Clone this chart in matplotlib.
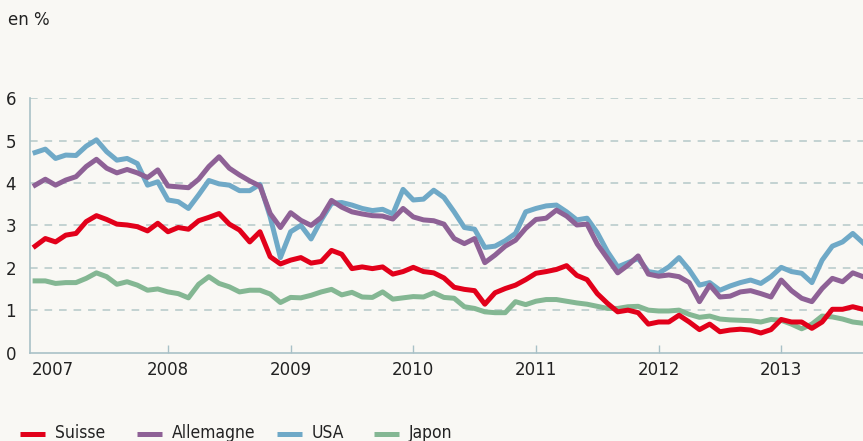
import matplotlib
matplotlib.use("Agg")
import matplotlib.pyplot as plt
from matplotlib.lines import Line2D
import numpy as np

# monthly values, Jan 2007 onwards
suisse = [2.51, 2.69, 2.61, 2.77, 2.81, 3.09, 3.23, 3.14, 3.03, 3.01,
          2.97, 2.87, 3.05, 2.85, 2.95, 2.91, 3.11, 3.19, 3.28, 3.03,
          2.89, 2.61, 2.85, 2.26, 2.09, 2.18, 2.24, 2.11, 2.15, 2.41,
          2.32, 1.98, 2.02, 1.98, 2.02, 1.85, 1.91, 2.01, 1.91, 1.88,
          1.76, 1.54, 1.49, 1.46, 1.14, 1.41, 1.51, 1.59, 1.72, 1.87,
          1.91, 1.96, 2.05, 1.82, 1.72, 1.39, 1.16, 0.96, 1.00, 0.94,
          0.67, 0.72, 0.72, 0.88, 0.72, 0.54, 0.67, 0.49, 0.53, 0.55,
          0.53, 0.46, 0.54, 0.78, 0.72, 0.72, 0.57, 0.72, 1.02, 1.02,
          1.08, 1.02]
allemagne = [3.95, 4.09, 3.95, 4.07, 4.15, 4.39, 4.56, 4.35, 4.24, 4.32,
             4.24, 4.13, 4.31, 3.93, 3.91, 3.89, 4.09, 4.39, 4.62, 4.35,
             4.19, 4.05, 3.93, 3.28, 2.95, 3.30, 3.12, 3.00, 3.19, 3.59,
             3.43, 3.32, 3.27, 3.23, 3.22, 3.15, 3.40, 3.20, 3.13, 3.11,
             3.03, 2.69, 2.57, 2.69, 2.12, 2.30, 2.51, 2.65, 2.93, 3.14,
             3.17, 3.36, 3.22, 3.01, 3.03, 2.56, 2.22, 1.88, 2.06, 2.28,
             1.85, 1.80, 1.83, 1.79, 1.65, 1.20, 1.59, 1.31, 1.33, 1.43,
             1.46, 1.39, 1.31, 1.71, 1.46, 1.28, 1.20, 1.51, 1.75, 1.67,
             1.88, 1.79]
usa = [4.72, 4.80, 4.58, 4.66, 4.65, 4.87, 5.02, 4.74, 4.54, 4.58,
       4.46, 3.95, 4.03, 3.60, 3.56, 3.40, 3.72, 4.06, 3.98, 3.95,
       3.82, 3.82, 3.97, 3.20, 2.24, 2.85, 3.00, 2.68, 3.13, 3.52,
       3.54, 3.48, 3.40, 3.35, 3.38, 3.27, 3.85, 3.60, 3.62, 3.83,
       3.66, 3.32, 2.95, 2.91, 2.48, 2.51, 2.64, 2.81, 3.32, 3.40,
       3.46, 3.48, 3.32, 3.13, 3.17, 2.83, 2.38, 2.02, 2.12, 2.22,
       1.91, 1.87, 2.02, 2.24, 1.95, 1.59, 1.65, 1.47, 1.57, 1.65,
       1.71, 1.63, 1.79, 2.01, 1.91, 1.87, 1.65, 2.18, 2.51, 2.61,
       2.81, 2.59]
japon = [1.69, 1.69, 1.63, 1.65, 1.65, 1.75, 1.88, 1.79, 1.61, 1.67,
         1.59, 1.47, 1.50, 1.43, 1.39, 1.29, 1.61, 1.79, 1.63, 1.55,
         1.43, 1.47, 1.47, 1.38, 1.18, 1.30, 1.29, 1.35, 1.43, 1.49,
         1.36, 1.42, 1.31, 1.30, 1.43, 1.26, 1.29, 1.32, 1.31, 1.41,
         1.30, 1.28, 1.08, 1.04, 0.96, 0.94, 0.94, 1.20, 1.13, 1.21,
         1.25, 1.25, 1.21, 1.17, 1.14, 1.09, 1.04, 1.04, 1.08, 1.09,
         1.00, 0.98, 0.98, 1.00, 0.90, 0.83, 0.86, 0.79, 0.77, 0.76,
         0.75, 0.72, 0.78, 0.76, 0.67, 0.56, 0.67, 0.86, 0.84, 0.79,
         0.72, 0.69]
years = ["2007", "2008", "2009", "2010", "2011", "2012", "2013"]
tick_pos = [1.7, 13, 25, 37, 49, 61, 73]

bg = "#f9f8f4"
axis_col = "#a9c1c7"
W, H = 863, 441

fig = plt.figure(figsize=(8.63, 4.41), dpi=100, facecolor=bg)
ax = fig.add_axes([30 / W, 88.5 / H, 833 / W, 254.2 / H])
ax.set_facecolor(bg)

x = np.arange(len(suisse))
ax.plot(x, japon, color="#84b793", lw=3.6, label="Japon", zorder=3)
ax.plot(x, usa, color="#6fa9c7", lw=3.6, label="USA", zorder=4)
ax.plot(x, allemagne, color="#8e6196", lw=3.6, label="Allemagne", zorder=5)
ax.plot(x, suisse, color="#e2001a", lw=3.6, label="Suisse", zorder=6)

ax.set_xlim(-0.5, 81)
ax.set_ylim(0, 6)
ax.set_yticks(range(0, 7))
ax.set_xticks(tick_pos)
ax.set_xticklabels(years)
ax.xaxis.get_major_ticks()[0].tick1line.set_visible(False)

ax.tick_params(axis="y", length=0, pad=10, labelsize=12, labelcolor="#222222")
ax.tick_params(axis="x", direction="in", length=6, width=1, color=axis_col,
               pad=6, labelsize=12, labelcolor="#222222")

for s in ["top", "right"]:
    ax.spines[s].set_visible(False)
for s in ["left", "bottom"]:
    ax.spines[s].set_color(axis_col)
    ax.spines[s].set_linewidth(1.2)

for v in range(1, 7):
    ax.axhline(v, color="#b5c8c8", lw=1.1, dashes=(5, 4.5), zorder=1)

fig.text(8 / W, 1 - 20 / H, "en %", fontsize=12, va="center", color="#222222")

# legend row along the bottom edge, laid out like the original
handles, labels = ax.get_legend_handles_labels()
starts = [20, 137, 277, 374]
y_leg = 1 - 433.5 / H
for (h, lab), x0 in zip(list(zip(handles, labels))[::-1], starts):
    fig.add_artist(Line2D([x0 / W, (x0 + 25) / W], [y_leg, y_leg],
                          transform=fig.transFigure, color=h.get_color(),
                          lw=3.6, solid_capstyle="butt"))
    fig.text((x0 + 35) / W, y_leg, lab, fontsize=12.5, va="center",
             color="#222222", fontstretch="condensed")

fig.savefig("out.png", dpi=100, facecolor=bg)
